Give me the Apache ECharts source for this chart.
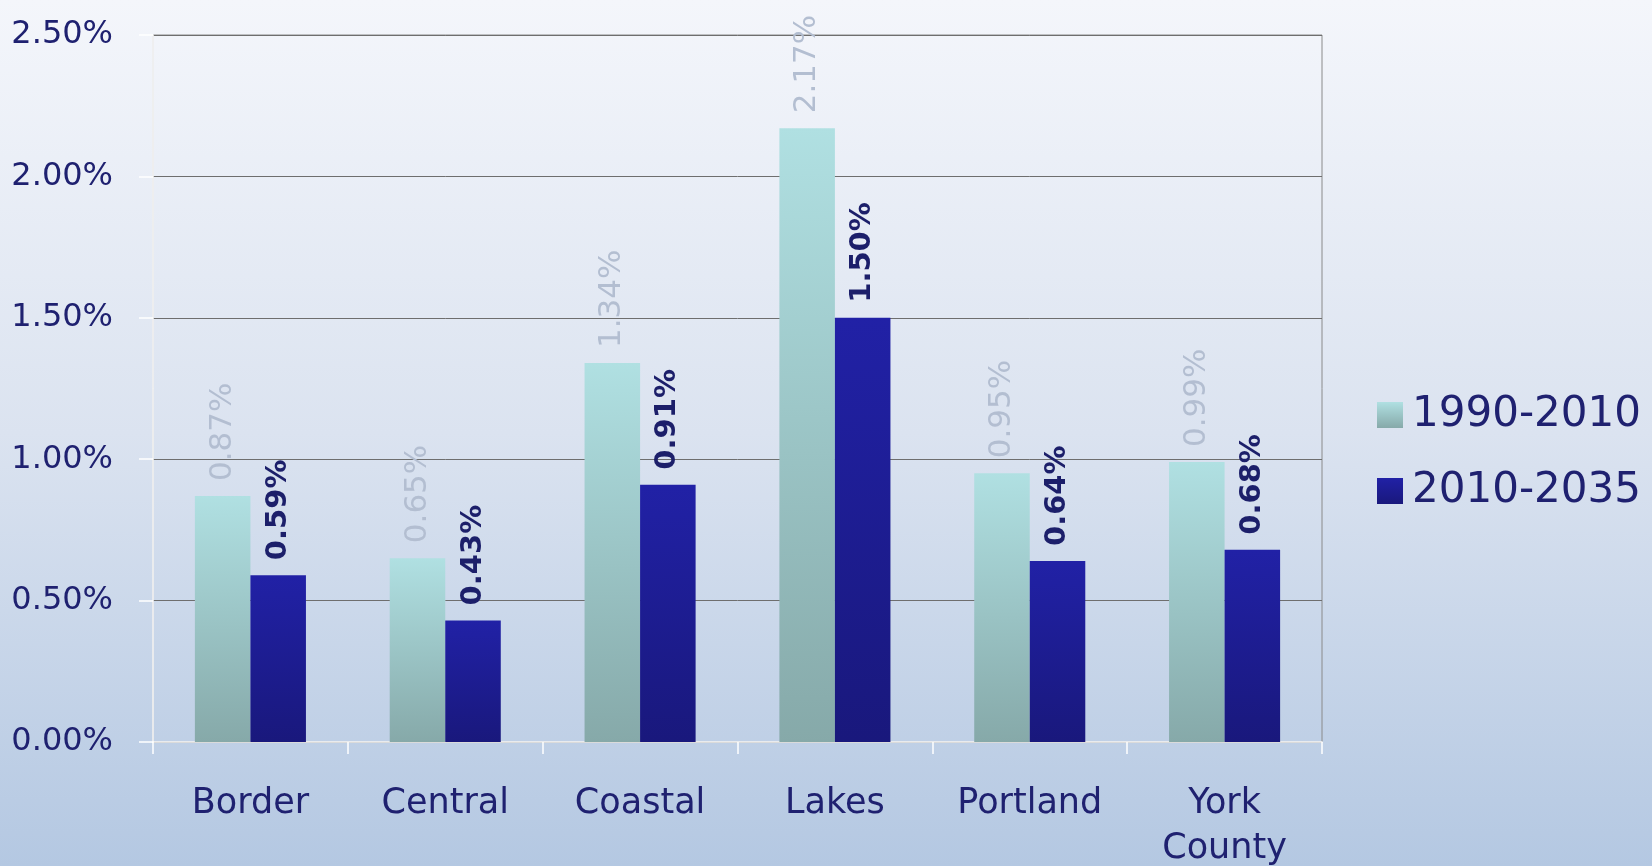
<!DOCTYPE html>
<html>
<head>
<meta charset="utf-8">
<title>Growth rates by region</title>
<script src="https://cdn.jsdelivr.net/npm/echarts@6/dist/echarts.min.js"></script>
<style>
  html, body { margin: 0; padding: 0; }
  #chart {
    width: 1652px;
    height: 866px;
    background: linear-gradient(to bottom, #f4f6fb 0%, #dbe3f0 50%, #b4c8e2 100%);
  }
</style>
</head>
<body>
<div id="chart"></div>
<script>
// regions on the x axis
const regions = ["Border", "Central", "Coastal", "Lakes", "Portland", "York\nCounty"];
// average annual growth, in percent
const growth1990to2010 = [0.87, 0.65, 1.34, 2.17, 0.95, 0.99];
const growth2010to2035 = [0.59, 0.43, 0.91, 1.50, 0.64, 0.68];
const seriesNames = ["1990-2010", "2010-2035"];
// y axis ticks
const yMin = 0;
const yMax = 2.5;
const yStep = 0.5;

const FONT = "DejaVu Sans";
const NAVY = "#1f2170";

const chart = echarts.init(document.getElementById("chart"));

const lightFill = new echarts.graphic.LinearGradient(0, 0, 0, 1, [
    { offset: 0, color: "#b0e0e2" },
    { offset: 1, color: "#86a9a9" },
]);
const darkFill = new echarts.graphic.LinearGradient(0, 0, 0, 1, [
    { offset: 0, color: "#2121a6" },
    { offset: 1, color: "#19187c" },
]);

const pct = (v) => v.toFixed(2) + "%";

const option = {
    backgroundColor: "transparent",
    textStyle: { fontFamily: FONT },
    grid: {
        left: 153,
        right: 330,
        top: 35,
        bottom: 124,
        outerBoundsMode: "none",
        containLabel: false,
        show: true,
        borderColor: "#8a8a8a",
        borderWidth: 1,
    },
    legend: {
        orient: "vertical",
        left: 1372,
        top: 386,
        icon: "rect",
        itemWidth: 26,
        itemHeight: 26,
        itemGap: 28,
        data: seriesNames,
        textStyle: {
            fontFamily: FONT,
            fontSize: 42,
            color: NAVY,
            lineHeight: 48,
            padding: [0, 0, 0, 4],
        },
    },
    xAxis: {
        type: "category",
        data: regions,
        axisLine: { lineStyle: { color: "#ffffff", width: 1.5 } },
        axisTick: { show: true, length: 12, lineStyle: { color: "#ffffff", width: 1.5 } },
        axisLabel: {
            margin: 39,
            fontFamily: FONT,
            fontSize: 35,
            lineHeight: 45,
            color: NAVY,
            interval: 0,
        },
    },
    yAxis: {
        type: "value",
        min: yMin,
        max: yMax,
        interval: yStep,
        axisLine: { show: true, lineStyle: { color: "#ffffff", width: 1.5 } },
        axisTick: { show: true, length: 14, lineStyle: { color: "#ffffff", width: 1.5 } },
        axisLabel: {
            margin: 40,
            fontFamily: FONT,
            fontSize: 32,
            color: NAVY,
            formatter: pct,
        },
        splitLine: { lineStyle: { color: "#6e6e6e", width: 1 } },
    },
    series: [
        {
            name: seriesNames[0],
            type: "bar",
            data: growth1990to2010,
            barGap: "0%",
            barCategoryGap: "43%",
            itemStyle: { color: lightFill },
            label: {
                show: true,
                position: "top",
                distance: 15,
                rotate: 90,
                align: "left",
                verticalAlign: "middle",
                fontFamily: FONT,
                fontSize: 31,
                color: "#b3bed1",
                formatter: (p) => pct(p.value),
            },
        },
        {
            name: seriesNames[1],
            type: "bar",
            data: growth2010to2035,
            itemStyle: { color: darkFill },
            label: {
                show: true,
                position: "top",
                distance: 15,
                rotate: 90,
                align: "left",
                verticalAlign: "middle",
                fontFamily: FONT,
                fontSize: 29,
                fontWeight: "bold",
                color: "#1c1f6a",
                formatter: (p) => pct(p.value),
            },
        },
    ],
};

chart.setOption(option);
</script>
</body>
</html>
